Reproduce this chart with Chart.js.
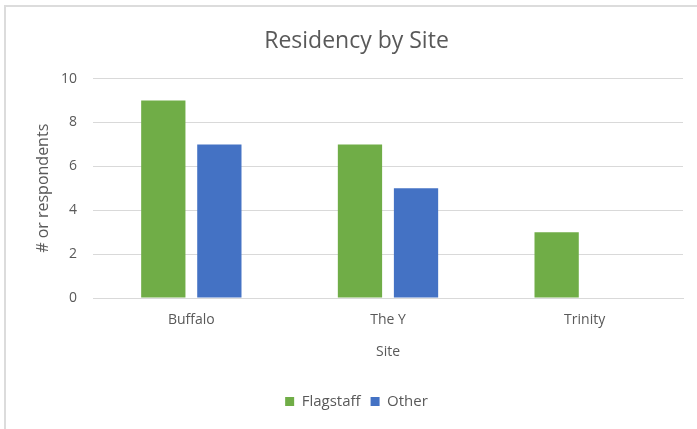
<!DOCTYPE html>
<html lang="en">
<head>
<meta charset="utf-8">
<title>Residency by Site</title>
<script src="https://cdn.jsdelivr.net/npm/chart.js@4.4.1/dist/chart.umd.min.js"></script>
<style>
body { margin: 0; background: #fff; }
#wrap { position: relative; width: 697px; height: 429px; }
#frame { position: absolute; left: 4px; top: 5px; right: 0; bottom: 0; border-top: 2px solid #dcdcdc; border-left: 2px solid #dcdcdc; pointer-events: none; }
</style>
</head>
<body>
<div id="wrap">
<canvas id="chart" width="697" height="429"></canvas>
<div id="frame"></div>
</div>
<script>
// values
const sites = ['Buffalo', 'The Y', 'Trinity'];
const flagstaff = [9, 7, 3];
const other = [7, 5, 0];

const tickColor = '#595959';
const gridColor = '#d9d9d9';
const fontFamily = '"Open Sans", sans-serif';

const data = {
	labels: sites,
	datasets: [{
		label: 'Flagstaff',
		data: flagstaff,
		backgroundColor: '#70ad47',
		categoryPercentage: 0.57,
		barPercentage: 0.79
	}, {
		label: 'Other',
		data: other,
		backgroundColor: '#4472c4',
		categoryPercentage: 0.57,
		barPercentage: 0.79
	}]
};

const config = {
	type: 'bar',
	data: data,
	options: {
		responsive: false,
		animation: false,
		layout: {
			padding: {top: 20, left: 30, right: 14, bottom: 10}
		},
		plugins: {
			title: {
				display: true,
				text: 'Residency by Site',
				color: tickColor,
				font: {family: fontFamily, size: 23, weight: 'normal'},
				padding: {top: 8, bottom: 23}
			},
			legend: {
				position: 'bottom',
				labels: {
					color: tickColor,
					font: {family: fontFamily, size: 15},
					boxWidth: 9,
					boxHeight: 9,
					padding: 10
				}
			},
			tooltip: {enabled: false}
		},
		scales: {
			x: {
				grid: {display: false, drawTicks: false},
				border: {display: true, color: gridColor},
				ticks: {color: tickColor, font: {family: fontFamily, size: 14}, padding: 14},
				title: {
					display: true,
					text: 'Site',
					color: tickColor,
					font: {family: fontFamily, size: 14},
					padding: {top: 8, bottom: 24}
				},
				afterFit: function(scale) { scale.height = 86; }
			},
			y: {
				min: 0,
				max: 10,
				ticks: {stepSize: 2, color: tickColor, font: {family: fontFamily, size: 14}, padding: 16},
				grid: {color: gridColor, drawTicks: false},
				border: {display: false},
				title: {
					display: true,
					text: '# or respondents',
					color: tickColor,
					font: {family: fontFamily, size: 16},
					padding: {bottom: 9}
				},
				afterFit: function(scale) { scale.width = 63; }
			}
		}
	}
};

var chart = new Chart(document.getElementById('chart'), config);
</script>
</body>
</html>
